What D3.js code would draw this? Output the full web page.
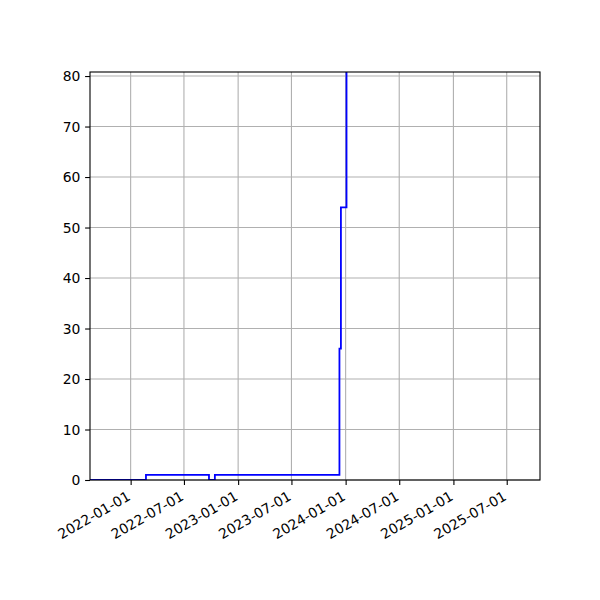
<!DOCTYPE html>
<html>
<head>
<meta charset="utf-8">
<script src="https://cdn.jsdelivr.net/npm/d3@7"></script>
<style>
  body { margin: 0; background: #fff; }
  text { font-family: "DejaVu Sans", sans-serif; font-size: 13.9px; fill: #000; }
</style>
</head>
<body>
<svg width="600" height="600"></svg>
<script>
// Step series (value holds from each date until the next one)
var stepDates = ["2021-08-16", "2022-02-22", "2022-09-24", "2022-10-14",
                 "2023-12-11", "2023-12-16", "2024-01-04"];
var stepValues = [0, 1, 0, 1, 26, 54, 82];

// Axis settings
var xTickLabels = ["2022-01-01", "2022-07-01", "2023-01-01", "2023-07-01",
                   "2024-01-01", "2024-07-01", "2025-01-01", "2025-07-01"];
var yTickValues = [0, 10, 20, 30, 40, 50, 60, 70, 80];
var xLimits = ["2021-08-16", "2025-10-22"];
var yLimits = [0, 80.8];

var parse = d3.timeParse("%Y-%m-%d");

// (not "top": that name is taken by window.top)
var svg = d3.select("svg"),
    plotLeft = 90, plotRight = 540, plotTop = 72, plotBottom = 480;

var xScale = d3.scaleTime().domain(xLimits.map(parse)).range([plotLeft, plotRight]),
    yScale = d3.scaleLinear().domain(yLimits).range([plotBottom, plotTop]);

var data = stepDates.map(function(d, i) { return {date: parse(d), value: stepValues[i]}; });

svg.append("rect").attr("width", 600).attr("height", 600).attr("fill", "#fff");

svg.append("defs").append("clipPath").attr("id", "plot-clip")
    .append("rect")
    .attr("x", plotLeft).attr("y", plotTop)
    .attr("width", plotRight - plotLeft).attr("height", plotBottom - plotTop);

// Grid
var grid = svg.append("g").attr("stroke", "#b0b0b0").attr("stroke-width", 1.1);
grid.selectAll(".gx")
    .data(xTickLabels.map(parse))
    .enter().append("line")
    .attr("x1", function(d) { return xScale(d); })
    .attr("x2", function(d) { return xScale(d); })
    .attr("y1", plotTop).attr("y2", plotBottom);
grid.selectAll(".gy")
    .data(yTickValues)
    .enter().append("line")
    .attr("y1", function(d) { return yScale(d); })
    .attr("y2", function(d) { return yScale(d); })
    .attr("x1", plotLeft).attr("x2", plotRight);

// Line
var line = d3.line()
    .curve(d3.curveStepAfter)
    .x(function(d) { return xScale(d.date); })
    .y(function(d) { return yScale(d.value); });

svg.append("path")
    .datum(data)
    .attr("clip-path", "url(#plot-clip)")
    .attr("fill", "none")
    .attr("stroke", "#0000ff")
    .attr("stroke-width", 1.8)
    .attr("stroke-linejoin", "miter")
    .attr("d", line);

// Axes
var xAxis = svg.append("g")
    .attr("transform", "translate(0," + plotBottom + ")")
    .call(d3.axisBottom(xScale)
        .tickValues(xTickLabels.map(parse))
        .tickFormat(d3.timeFormat("%Y-%m-%d"))
        .tickSize(4.9).tickSizeOuter(0));
xAxis.select(".domain").remove();
xAxis.selectAll(".tick line").attr("stroke", "#000").attr("stroke-width", 1.1);
xAxis.selectAll(".tick text")
    .attr("text-anchor", "end")
    .attr("x", null).attr("y", null).attr("dy", "0.76em")
    .attr("transform", "translate(-5,10) rotate(-30)");

var yAxis = svg.append("g")
    .attr("transform", "translate(" + plotLeft + ",0)")
    .call(d3.axisLeft(yScale)
        .tickValues(yTickValues)
        .tickFormat(d3.format("d"))
        .tickSize(4.9).tickSizeOuter(0));
yAxis.select(".domain").remove();
yAxis.selectAll(".tick line").attr("stroke", "#000").attr("stroke-width", 1.1);
yAxis.selectAll(".tick text")
    .attr("x", -9.7).attr("dy", "0.35em");
xAxis.attr("font-size", null).attr("font-family", null);
yAxis.attr("font-size", null).attr("font-family", null);

// Frame
svg.append("rect")
    .attr("x", plotLeft).attr("y", plotTop)
    .attr("width", plotRight - plotLeft).attr("height", plotBottom - plotTop)
    .attr("fill", "none").attr("stroke", "#000").attr("stroke-width", 1.1);
</script>
</body>
</html>
